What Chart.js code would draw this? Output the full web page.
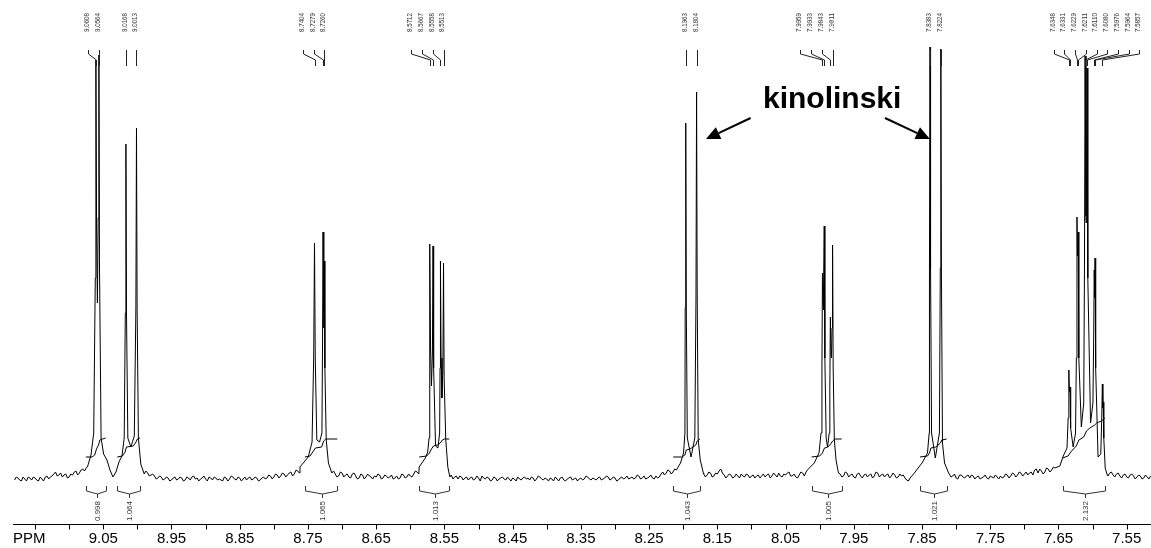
<!DOCTYPE html>
<html>
<head>
<meta charset="utf-8">
<title>1H NMR</title>
<script src="https://cdn.jsdelivr.net/npm/chart.js@4.4.1/dist/chart.umd.min.js"></script>
<style>
  body { margin: 0; background: #fff; }
  canvas { display: block; }
</style>
</head>
<body>
<canvas id="espectro" width="1151" height="548"></canvas>
<script>
// ---- datos leidos del espectro ----
// linea base: una lectura cada 0.005 ppm desde 9.180
const baseInicio = 9.18;
const basePaso = 0.005;
const lineaBase = [
  -2, 0, -3, -1, 1, -2, 0, -3, -1, 1,
  -1, 2, 6, 3, 1, 4, 1, 3, 7, 5,
  9, 10, 0, 0, 0, 0, 0, 0, 0, 0,
  0, 0, 0, 0, 0, 0, 0, 0, 0, 5,
  3, 2, 0, 1, -1, 0, -2, 1, -1, 0,
  -2, 0, 1, -1, -3, 0, -1, 1, -2, 0,
  -1, -3, 0, -1, 1, -2, 0, -1, -2, 1,
  -1, 0, -2, 1, 0, 2, 1, 3, 2, 4,
  3, 6, 4, 7, 0, 0, 0, 0, 0, 0,
  0, 0, 0, 0, 4, 2, 5, 3, 1, 4,
  2, 0, 3, 1, 2, -1, 1, 3, 0, 2,
  1, -1, 2, 0, 3, 1, 2, 4, 6, 0,
  0, 0, 0, 0, 0, 0, 0, 0, 3, 1,
  -1, 1, 0, -2, 1, -1, 0, 2, -1, 0,
  -2, 0, -1, 1, -2, -1, 0, -3, -1, 0,
  -1, -2, 0, -1, 1, -2, -1, 0, -3, -1,
  0, -2, -1, 1, -1, -3, 0, -1, 1, -2,
  -1, 0, -2, 0, 1, -1, 0, -2, 1, 0,
  -1, 1, 0, 2, 0, -1, 1, 0, 2, 1,
  6, 5, 7, 6, 0, 0, 0, 0, 0, 0,
  0, 0, 4, 3, 5, 2, 4, 9, 3, 2,
  3, 1, 2, 4, 1, 3, 2, 0, 3, 2,
  1, 4, 2, 3, 5, 1, 3, 6, 2, 1,
  3, 5, 6, 0, 0, 0, 0, 0, 0, 0,
  0, 0, 4, 2, 5, 3, 1, 4, 2, 3,
  1, 4, 2, 5, 3, 1, 4, 2, 3, 1,
  2, 0, -3, 2, 6, 0, 0, 0, 0, 0,
  0, 0, 0, 0, 4, 2, 0, 3, 1, 2,
  0, 2, 1, -1, 1, 0, 2, 0, 1, 2,
  1, 3, 2, 4, 3, 5, 4, 3, 6, 8,
  5, 7, 6, 9, 8, 0, 0, 0, 0, 0,
  0, 0, 0, 0, 0, 0, 0, 0, 0, 0,
  0, 5, 3, 4, 2, 3, 1, 3, 2, 1,
  2, 0, 1, 2
];
// lecturas intermedias (9.1775, 9.1725, ...)
const ruidoMedio = [
  1, -2, 1, -3, 0, 1, -2, 1, -3, 2,
  1, 4, 2, 5, 3, 0, 4, 6, 3, 8,
  7, 12, 0, 0, 0, 0, 0, 0, 0, 0,
  0, 0, 0, 0, 0, 0, 0, 0, 7, 2,
  4, -1, 2, -2, 1, -3, 0, -2, 1, -3,
  1, -2, 2, 0, -1, 2, -3, 0, 1, -2,
  -2, 1, -3, 2, -1, 1, -3, 1, 0, -2,
  1, -3, 0, -1, 3, -1, 4, 0, 5, 1,
  5, 2, 8, 5, 0, 0, 0, 0, 0, 0,
  0, 0, 0, 7, 1, 6, 1, 4, 0, 5,
  -1, 4, -1, 4, 1, 2, 4, -1, 3, 0,
  3, 0, -1, 4, 0, 4, 1, 7, 4, 0,
  0, 0, 0, 0, 0, 0, 0, 0, -1, 2,
  2, -2, 1, 0, -2, 2, -3, 0, 1, -3,
  1, -3, 0, -1, 1, -3, -1, 1, -2, 1,
  0, 1, -3, 2, -1, 0, -3, -1, 1, -3,
  1, -3, 0, -2, 0, -1, -2, 2, -1, 0,
  -2, 1, -1, 2, -2, 1, -3, 0, -1, 2,
  0, -1, 3, -1, 2, 0, 3, -1, 0, 4,
  3, 8, 4, 9, 0, 0, 0, 0, 0, 0,
  0, 0, 1, 6, 1, 5, 7, 5, 0, 4,
  0, 4, 0, 2, 4, 0, 3, 2, 0, 4,
  3, 0, 5, 1, 2, 4, 5, 2, 4, 0,
  6, 2, 0, 0, 0, 0, 0, 0, 0, 0,
  0, 0, 1, 6, 1, 4, 0, 5, 0, 4,
  3, 0, 6, 1, 4, 3, 0, 5, 0, 4,
  3, -2, 0, 4, 0, 0, 0, 0, 0, 0,
  0, 0, 0, 0, 1, 4, -1, 3, 0, 3,
  3, -1, 2, 0, 3, -1, 1, 3, -1, 0,
  4, 0, 5, 1, 6, 2, 6, 5, 3, 9,
  9, 4, 10, 6, 11, 0, 0, 0, 0, 0,
  0, 0, 0, 0, 0, 0, 0, 0, 0, 0,
  2, 6, 1, 5, 0, 4, 0, 4, -1, 3,
  -1, 3, -1
];

// grupos de senales [ppm, intensidad]
const grupo906 = [
  [9.0724, 13], [9.0680, 23], [9.0640, 45], [9.0617, 200], [9.0608, 418], [9.0598, 250],
  [9.0586, 175], [9.0574, 260], [9.0564, 423], [9.0555, 210], [9.0532, 40], [9.0495, 24],
  [9.0446, 18], [9.0402, 8], [9.0358, 1], [9.0314, 6], [9.0270, 16], [9.0226, 22],
  [9.0193, 40], [9.0177, 165], [9.0168, 334], [9.0159, 160], [9.0140, 40], [9.0095, 31],
  [9.0045, 42], [9.0022, 170], [9.0013, 350], [9.0004, 170], [8.9985, 40], [8.9950, 14],
  [8.9900, 4]
];
const grupo874 = [
  [8.7617, 11], [8.7496, 21], [8.7440, 36], [8.7416, 120], [8.7404, 235], [8.7393, 120],
  [8.7370, 38], [8.7330, 36], [8.7295, 45], [8.7287, 130], [8.7279, 246], [8.7270, 150],
  [8.7266, 170], [8.7260, 217], [8.7252, 110], [8.7232, 38], [8.7200, 15], [8.7150, 5]
];
const grupo856 = [
  [8.5870, 11], [8.5780, 20], [8.5745, 26], [8.5725, 40], [8.5718, 120], [8.5712, 234],
  [8.5703, 130], [8.5690, 92], [8.5676, 125], [8.5667, 232], [8.5658, 110], [8.5630, 32],
  [8.5595, 30], [8.5570, 45], [8.5564, 110], [8.5558, 217], [8.5549, 120], [8.5536, 80],
  [8.5522, 110], [8.5513, 215], [8.5504, 100], [8.5480, 38], [8.5450, 11], [8.5420, 1]
];
const grupo819 = [
  [8.2100, 8], [8.2040, 15], [8.1995, 25], [8.1975, 45], [8.1971, 170], [8.1963, 355],
  [8.1955, 170], [8.1940, 40], [8.1885, 21], [8.1830, 40], [8.1813, 180], [8.1804, 386],
  [8.1795, 180], [8.1780, 38], [8.1750, 18], [8.1705, 5]
];
const grupo799 = [
  [8.0180, 8], [8.0080, 15], [8.0010, 25], [7.9980, 45], [7.9967, 110], [7.9959, 205],
  [7.9950, 175], [7.9946, 168], [7.9941, 190], [7.9933, 252], [7.9924, 120], [7.9905, 40],
  [7.9885, 31], [7.9860, 45], [7.9851, 90], [7.9843, 161], [7.9834, 125], [7.9827, 120],
  [7.9819, 150], [7.9811, 233], [7.9802, 110], [7.9785, 38], [7.9760, 18], [7.9725, 5]
];
const grupo783 = [
  [7.8580, 8], [7.8500, 15], [7.8420, 25], [7.8395, 45], [7.8391, 210], [7.8383, 431],
  [7.8375, 210], [7.8360, 45], [7.8305, 20], [7.8245, 45], [7.8232, 210], [7.8224, 429],
  [7.8216, 210], [7.8200, 35], [7.8170, 15], [7.8110, 5]
];
const grupo761 = [
  [7.6552, 10], [7.6480, 12], [7.6430, 22], [7.6375, 30], [7.6358, 60], [7.6348, 108],
  [7.6340, 86], [7.6336, 88], [7.6331, 91], [7.6322, 50], [7.6285, 31], [7.6250, 45],
  [7.6238, 120], [7.6229, 261], [7.6222, 225], [7.6218, 222], [7.6211, 246], [7.6202, 120],
  [7.6165, 51], [7.6130, 75], [7.6119, 210], [7.6110, 422], [7.6097, 262], [7.6093, 255],
  [7.6080, 410], [7.6070, 200], [7.6030, 55], [7.5995, 75], [7.5984, 140], [7.5976, 208],
  [7.5971, 182], [7.5968, 180], [7.5964, 220], [7.5955, 110], [7.5920, 21], [7.5880, 24],
  [7.5866, 60], [7.5857, 94], [7.5851, 70], [7.5848, 72], [7.5844, 76], [7.5836, 40],
  [7.5815, 10], [7.5790, 4]
];

// curvas de integracion
const int1 = [[9.0755, 21], [9.0665, 21], [9.0625, 23], [9.0600, 29], [9.0570, 33], [9.0550, 38], [9.0510, 39], [9.0465, 40]];
const int2 = [[9.0295, 21], [9.0220, 22], [9.0180, 26], [9.0160, 31], [9.0060, 32], [9.0020, 36], [9.0000, 39], [8.9962, 40]];
const int3 = [[8.7545, 21], [8.7470, 22], [8.7420, 27], [8.7390, 30], [8.7300, 31], [8.7270, 37], [8.7240, 39], [8.7070, 39]];
const int4 = [[8.5869, 21], [8.5760, 22], [8.5720, 25], [8.5690, 29], [8.5660, 32], [8.5600, 33], [8.5560, 35], [8.5530, 38], [8.5500, 39], [8.5429, 39]];
const int5 = [[8.2146, 21], [8.2020, 21], [8.1975, 23], [8.1955, 28], [8.1900, 29], [8.1815, 33], [8.1795, 37], [8.1755, 39]];
const int6 = [[8.0118, 21], [8.0000, 22], [7.9960, 25], [7.9930, 30], [7.9880, 31], [7.9840, 34], [7.9810, 37], [7.9780, 39], [7.9678, 39]];
const int7 = [[7.8530, 21], [7.8420, 22], [7.8390, 25], [7.8370, 30], [7.8300, 31], [7.8230, 35], [7.8210, 38], [7.8139, 39]];
const int8 = [[7.6439, 20], [7.6360, 22], [7.6320, 26], [7.6240, 32], [7.6200, 38], [7.6130, 41], [7.6090, 47], [7.6040, 50], [7.5970, 53], [7.5940, 55], [7.5870, 57], [7.5840, 59], [7.5819, 60]];
const valoresIntegral = ['0.998', '1.064', '1.065', '1.013', '1.043', '1.005', '1.021', '2.132'];

// picos marcados
const picos = [
  '9.0608', '9.0564', '9.0168', '9.0013',
  '8.7404', '8.7279', '8.7260',
  '8.5712', '8.5667', '8.5558', '8.5513',
  '8.1963', '8.1804',
  '7.9959', '7.9933', '7.9843', '7.9811',
  '7.8383', '7.8224',
  '7.6348', '7.6331', '7.6229', '7.6211', '7.6110', '7.6080', '7.5976', '7.5964', '7.5857'
];

// eje
const marcasEje = [9.15, 9.10, 9.05, 9.00, 8.95, 8.90, 8.85, 8.80, 8.75, 8.70, 8.65, 8.60, 8.55, 8.50,
  8.45, 8.40, 8.35, 8.30, 8.25, 8.20, 8.15, 8.10, 8.05, 8.00, 7.95, 7.90, 7.85, 7.80, 7.75, 7.70,
  7.65, 7.60, 7.55];
const etiquetasEje = ['9.05', '8.95', '8.85', '8.75', '8.65', '8.55', '8.45', '8.35', '8.25', '8.15',
  '8.05', '7.95', '7.85', '7.75', '7.65', '7.55'];

const nota = 'kinolinski';

// ---- armado ----
const grupos = [grupo906, grupo874, grupo856, grupo819, grupo799, grupo783, grupo761];
const integrales = [int1, int2, int3, int4, int5, int6, int7, int8];

function dentroDeGrupo(ppm) {
  return grupos.some(g => ppm <= g[0][0] && ppm >= g[g.length - 1][0]);
}

function armarEspectro() {
  const puntos = [];
  lineaBase.forEach((v, i) => {
    const ppm = +(baseInicio - i * basePaso).toFixed(4);
    if (!dentroDeGrupo(ppm)) puntos.push([ppm, v]);
  });
  ruidoMedio.forEach((v, i) => {
    const ppm = +(baseInicio - basePaso / 2 - i * basePaso).toFixed(4);
    if (!dentroDeGrupo(ppm)) puntos.push([ppm, v]);
  });
  grupos.forEach(g => puntos.push(...g));
  puntos.sort((a, b) => b[0] - a[0]);
  return puntos.map(p => ({ x: p[0], y: p[1] }));
}

const SEP = 10.7;                    // separacion minima entre etiquetas (px)
const corrimiento = { '7.5857': 37 }; // el multiplete lleva las etiquetas corridas

function posEtiquetas(xs) {
  const n = picos.length;
  const px = picos.map(p => xs.getPixelForValue(parseFloat(p)));
  const lx = new Array(n);
  for (let i = n - 1; i >= 0; i--) {
    lx[i] = i < n - 1 ? Math.min(px[i], lx[i + 1] - SEP) : px[i];
  }
  Object.keys(corrimiento).forEach(k => {
    let i = picos.indexOf(k);
    const d = corrimiento[k];
    lx[i] += d;
    while (i > 0 && lx[i] - d - lx[i - 1] <= SEP + 0.01) {
      i--;
      lx[i] += d;
    }
  });
  return { px, lx };
}

function flecha(ctx, x1, y1, x2, y2) {
  const ang = Math.atan2(y2 - y1, x2 - x1);
  const largo = 14, ancho = 6.5;
  const bx = x2 - largo * Math.cos(ang), by = y2 - largo * Math.sin(ang);
  ctx.beginPath();
  ctx.moveTo(x1, y1);
  ctx.lineTo(bx, by);
  ctx.stroke();
  ctx.beginPath();
  ctx.moveTo(x2, y2);
  ctx.lineTo(bx + ancho * Math.sin(ang), by - ancho * Math.cos(ang));
  ctx.lineTo(bx - ancho * Math.sin(ang), by + ancho * Math.cos(ang));
  ctx.closePath();
  ctx.fill();
}

const decoracion = {
  id: 'decoracion',
  afterDraw(chart) {
    const ctx = chart.ctx;
    const xs = chart.scales.x, ys = chart.scales.y;
    const fuente = '"Liberation Sans", Arial, sans-serif';
    ctx.save();

    // eje ppm
    const yEje = chart.chartArea.bottom + 0.5;
    ctx.strokeStyle = '#000';
    ctx.lineWidth = 1;
    ctx.beginPath();
    ctx.moveTo(chart.chartArea.left, yEje);
    ctx.lineTo(chart.chartArea.right, yEje);
    marcasEje.forEach(v => {
      const x = Math.round(xs.getPixelForValue(v)) + 0.5;
      ctx.moveTo(x, yEje);
      ctx.lineTo(x, yEje + 5);
    });
    ctx.stroke();
    ctx.fillStyle = '#000';
    ctx.font = '15px ' + fuente;
    ctx.textBaseline = 'alphabetic';
    ctx.textAlign = 'center';
    etiquetasEje.forEach(t => {
      ctx.fillText(t, xs.getPixelForValue(parseFloat(t)), yEje + 18);
    });
    ctx.textAlign = 'left';
    ctx.fillText('PPM', chart.chartArea.left, yEje + 18);

    // etiquetas de picos
    const { px, lx } = posEtiquetas(xs);
    ctx.strokeStyle = '#222';
    ctx.fillStyle = '#333';
    ctx.font = '7px ' + fuente;
    ctx.beginPath();
    picos.forEach((p, i) => {
      const a = Math.round(lx[i]) + 0.5, b = Math.round(px[i]) + 0.5;
      ctx.moveTo(a, 50);
      ctx.lineTo(a, 54);
      ctx.lineTo(b, 60);
      ctx.lineTo(b, 66);
    });
    ctx.stroke();
    picos.forEach((p, i) => {
      ctx.save();
      ctx.translate(lx[i] - 1, 32);
      ctx.rotate(-Math.PI / 2);
      ctx.textAlign = 'left';
      ctx.textBaseline = 'middle';
      ctx.fillText(p, 0, 0, 19);
      ctx.restore();
    });

    // llaves de integracion
    ctx.strokeStyle = '#333';
    ctx.font = '8px ' + fuente;
    integrales.forEach((c, i) => {
      const x1 = Math.round(xs.getPixelForValue(c[0][0])) + 0.5;
      const x2 = Math.round(xs.getPixelForValue(c[c.length - 1][0])) + 0.5;
      const xc = Math.round((x1 + x2) / 2) + 0.5;
      ctx.beginPath();
      ctx.moveTo(x1, 486);
      ctx.lineTo(x1, 491);
      ctx.lineTo(xc, 494);
      ctx.lineTo(x2, 491);
      ctx.lineTo(x2, 486);
      ctx.moveTo(xc, 494);
      ctx.lineTo(xc, 498);
      ctx.stroke();
      ctx.save();
      ctx.translate(xc, 521);
      ctx.rotate(-Math.PI / 2);
      ctx.textAlign = 'left';
      ctx.textBaseline = 'middle';
      ctx.fillText(valoresIntegral[i], 0, 0, 21);
      ctx.restore();
    });

    // nota con flechas
    ctx.fillStyle = '#000';
    ctx.strokeStyle = '#000';
    ctx.font = 'bold 30px ' + fuente;
    ctx.textAlign = 'left';
    ctx.textBaseline = 'alphabetic';
    ctx.fillText(nota, xs.getPixelForValue(8.0831), ys.getPixelForValue(370));
    ctx.lineWidth = 2;
    flecha(ctx, xs.getPixelForValue(8.1012), ys.getPixelForValue(360), xs.getPixelForValue(8.1667), ys.getPixelForValue(339));
    flecha(ctx, xs.getPixelForValue(7.9043), ys.getPixelForValue(360), xs.getPixelForValue(7.8384), ys.getPixelForValue(339));
    ctx.restore();
  }
};

const datasets = [{
  data: armarEspectro(),
  borderColor: '#000',
  borderWidth: 1
}];
integrales.forEach(c => {
  datasets.push({
    data: c.map(p => ({ x: p[0], y: p[1] })),
    borderColor: '#000',
    borderWidth: 1
  });
});

new Chart(document.getElementById('espectro'), {
  type: 'line',
  data: { datasets },
  options: {
    responsive: false,
    animation: false,
    devicePixelRatio: 1,
    events: [],
    layout: { padding: { left: 13, right: 0, top: 0, bottom: 24 } },
    plugins: { legend: { display: false }, tooltip: { enabled: false } },
    elements: { point: { radius: 0 }, line: { tension: 0 } },
    scales: {
      x: { type: 'linear', reverse: true, min: 7.5144, max: 9.1823, display: false },
      y: { type: 'linear', min: -46, max: 478, display: false }
    }
  },
  plugins: [decoracion]
});
</script>
</body>
</html>
